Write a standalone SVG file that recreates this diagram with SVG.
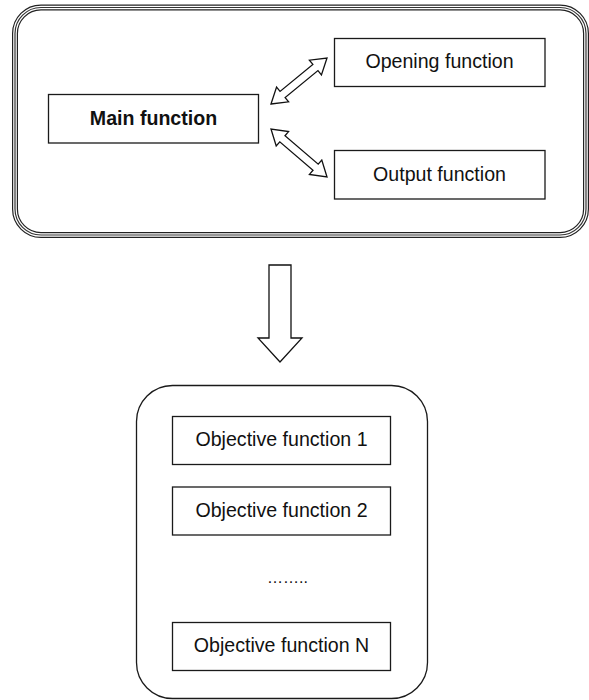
<svg xmlns="http://www.w3.org/2000/svg" width="589" height="700" viewBox="0 0 589 700">
<style>
  .box { fill: #ffffff; stroke: #1a1a1a; stroke-width: 1.3; }
  .lbl { font-family: "Liberation Sans", Arial, sans-serif; font-size: 19.6px; fill: #111; text-anchor: middle; }
  .bold { font-weight: bold; }
  .dots { font-size: 16px; }
  .arrow { fill: #ffffff; stroke: #111; stroke-width: 1.3; stroke-linejoin: miter; }
</style>
<g id="top-container">
  <rect x="15" y="7.5" width="571" height="227.5" rx="26" ry="26" fill="#ffffff" stroke="#222" stroke-width="6"/>
  <rect x="15" y="7.5" width="571" height="227.5" rx="26" ry="26" fill="none" stroke="#ffffff" stroke-width="3.6"/>
  <rect x="15" y="7.5" width="571" height="227.5" rx="26" ry="26" fill="none" stroke="#333" stroke-width="1.2"/>
</g>
<g id="main-function">
  <rect class="box" x="48.5" y="94.5" width="210" height="48.5"/>
  <text class="lbl bold" x="153.5" y="125">Main function</text>
</g>
<g id="opening-function">
  <rect class="box" x="334.5" y="38.5" width="210.5" height="48"/>
  <text class="lbl" x="439.5" y="68">Opening function</text>
</g>
<g id="output-function">
  <rect class="box" x="334.5" y="150.5" width="210.5" height="48.5"/>
  <text class="lbl" x="439.5" y="181">Output function</text>
</g>
<g id="connectors">
  <polygon class="arrow" points="271,104 288.62,101.82 285.13,97.57 317.95,70.61 321.44,74.86 327,58 309.38,60.18 312.87,64.43 280.05,91.39 276.56,87.14"/>
  <polygon class="arrow" points="271,129 276.21,145.97 279.79,141.8 313.01,170.28 309.43,174.45 327,177 321.79,160.03 318.21,164.2 284.99,135.72 288.57,131.55"/>
  <polygon class="arrow" points="269,265 291,265 291,338 302,338 280,362 258,338 269,338"/>
</g>
<g id="bottom-container">
  <rect class="box" x="136.5" y="385.5" width="291" height="313" rx="36" ry="36"/>
</g>
<g id="objective-function-1">
  <rect class="box" x="172.5" y="416.5" width="218" height="48"/>
  <text class="lbl" x="281.5" y="446">Objective function 1</text>
</g>
<g id="objective-function-2">
  <rect class="box" x="172.5" y="487" width="218" height="48"/>
  <text class="lbl" x="281.5" y="517">Objective function 2</text>
</g>
<g id="ellipsis">
  <text class="lbl dots" x="287.5" y="583">……..</text>
</g>
<g id="objective-function-n">
  <rect class="box" x="172.5" y="622.5" width="218" height="48"/>
  <text class="lbl" x="281.5" y="652">Objective function N</text>
</g>
</svg>
